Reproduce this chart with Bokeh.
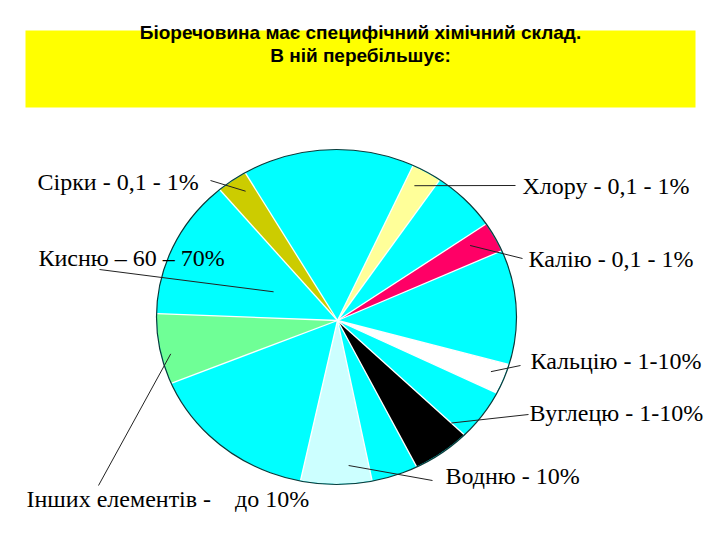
import numpy as np
from bokeh.plotting import figure
from bokeh.models import Range1d, ColumnDataSource, BoxAnnotation
from bokeh.core.properties import value
from bokeh.embed import file_html
from bokeh.resources import INLINE

# ---------------- data ----------------
title_lines = ["Біоречовина має специфічний хімічний склад.", "В ній перебільшує:"]

slice_names = ["кисень", "інші елементи", "кисень", "водень", "кисень", "вуглець", "кисень",
               "кальцій", "кисень", "калій", "кисень", "хлор", "кисень", "сірка"]
slice_degrees = [45.8, 22.9, 56.3, 25.2, 16.2, 19.6, 17.5, 10.1, 37.4, 10.0, 21.0, 10.0, 58.0, 10.0]
slice_colors = ["#00FFFF", "#6FFF96", "#00FFFF", "#CCFFFF", "#00FFFF", "#000000", "#00FFFF",
                "#FFFFFF", "#00FFFF", "#FF0066", "#00FFFF", "#FFFF99", "#00FFFF", "#CCCC00"]
start_angle = 132.0

label_texts = ["Сірки - 0,1 - 1%", "Кисню – 60 – 70%", "Хлору - 0,1 - 1%", "Калію - 0,1 - 1%",
               "Кальцію - 1-10%", "Вуглецю - 1-10%", "Водню - 10%",
               "Інших елементів -\u00a0\u00a0\u00a0 до 10%"]
label_slice = [13, 0, 11, 9, 7, 5, 3, 1]

# ---------------- layout / style ----------------
label_pos_in_slice = [0.34, 0.52, 0.63, 0.65, 0.60, 1.0, 0.69, 0.59]
label_radius_frac = [0.91, 0.39, 0.90, 0.86, 0.92, 0.90, 0.89, 0.95]
label_x = [37, 38, 522, 528, 530, 529, 445, 26]
label_y = [181, 257, 185, 258, 360, 412, 475, 498]
leader_x = [210, 99, 515, 522, 520, 528, 432, 98]
leader_y = [180, 269, 185, 258, 365, 414, 480, 485]

W, H = 720, 540
hub_x, hub_y = 337.0, 320.0          # where the slices meet
ell_x, ell_y = 336.0, 316.5          # outline ellipse centre
ell_a, ell_b = 180.0, 167.5          # outline ellipse semi-axes


def rim_distance(theta_deg, a=ell_a - 0.6, b=ell_b - 0.6):
    th = np.radians(theta_deg)
    dx, dy = np.cos(th), -np.sin(th)
    px, py = hub_x - ell_x, hub_y - ell_y
    A = dx * dx / a ** 2 + dy * dy / b ** 2
    B = 2 * (px * dx / a ** 2 + py * dy / b ** 2)
    C = px * px / a ** 2 + py * py / b ** 2 - 1
    return (-B + np.sqrt(B * B - 4 * A * C)) / (2 * A)


def point(theta_deg, frac=1.0):
    r = rim_distance(theta_deg) * frac
    th = np.radians(theta_deg)
    return hub_x + r * np.cos(th), hub_y - r * np.sin(th)


bounds = start_angle + np.concatenate([[0.0], np.cumsum(slice_degrees)])

xs, ys = [], []
for i in range(len(slice_degrees)):
    a0, a1 = bounds[i], bounds[i + 1]
    angs = np.linspace(a0, a1, max(3, int(abs(a1 - a0) * 2)))
    px, py = point(angs)
    xs.append([hub_x] + list(px))
    ys.append([hub_y] + list(py))

p = figure(width=W, height=H, x_range=Range1d(0, W), y_range=Range1d(H, 0),
           output_backend="svg", toolbar_location=None, min_border=0,
           background_fill_color="white", border_fill_color="white")
p.axis.visible = False
p.grid.visible = False
p.outline_line_color = None

# yellow title band
p.add_layout(BoxAnnotation(left=25, right=695, top=30, bottom=107, level="underlay",
                           fill_color="#FFFF00", fill_alpha=1.0, line_color=None))

title_src = ColumnDataSource(dict(x=[360, 360], y=[32, 55], t=title_lines))
p.text(x="x", y="y", text="t", source=title_src, text_align="center",
       text_baseline="middle", text_font=value("Liberation Sans"),
       text_font_style="bold", text_font_size="19px", text_color="black")

# pie
p.ellipse(x=ell_x, y=ell_y, width=2 * ell_a, height=2 * ell_b,
          fill_color="#00FFFF", line_color=None)
src = ColumnDataSource(dict(xs=xs, ys=ys, color=slice_colors, name=slice_names))
p.patches(xs="xs", ys="ys", fill_color="color", line_color=None, source=src)

bx, by = point(bounds[:-1])
p.segment(x0=[hub_x] * len(bx), y0=[hub_y] * len(by), x1=bx, y1=by,
          line_color="white", line_width=1.3)

p.ellipse(x=ell_x, y=ell_y, width=2 * ell_a, height=2 * ell_b,
          fill_color=None, line_color="#0b3a3a", line_width=1.2)

# leader lines
ax, ay = [], []
for s, f, rf in zip(label_slice, label_pos_in_slice, label_radius_frac):
    ang = bounds[s] + f * slice_degrees[s]
    x, y = point(ang, rf)
    ax.append(x)
    ay.append(y)
p.segment(x0=ax, y0=ay, x1=leader_x, y1=leader_y, line_color="#222222", line_width=1)

lab_src = ColumnDataSource(dict(x=label_x, y=label_y, t=label_texts))
p.text(x="x", y="y", text="t", source=lab_src, text_align="left",
       text_baseline="middle", text_font=value("Liberation Serif"),
       text_font_size="24px", text_color="black")

open("out.html", "w").write(file_html(p, INLINE))
